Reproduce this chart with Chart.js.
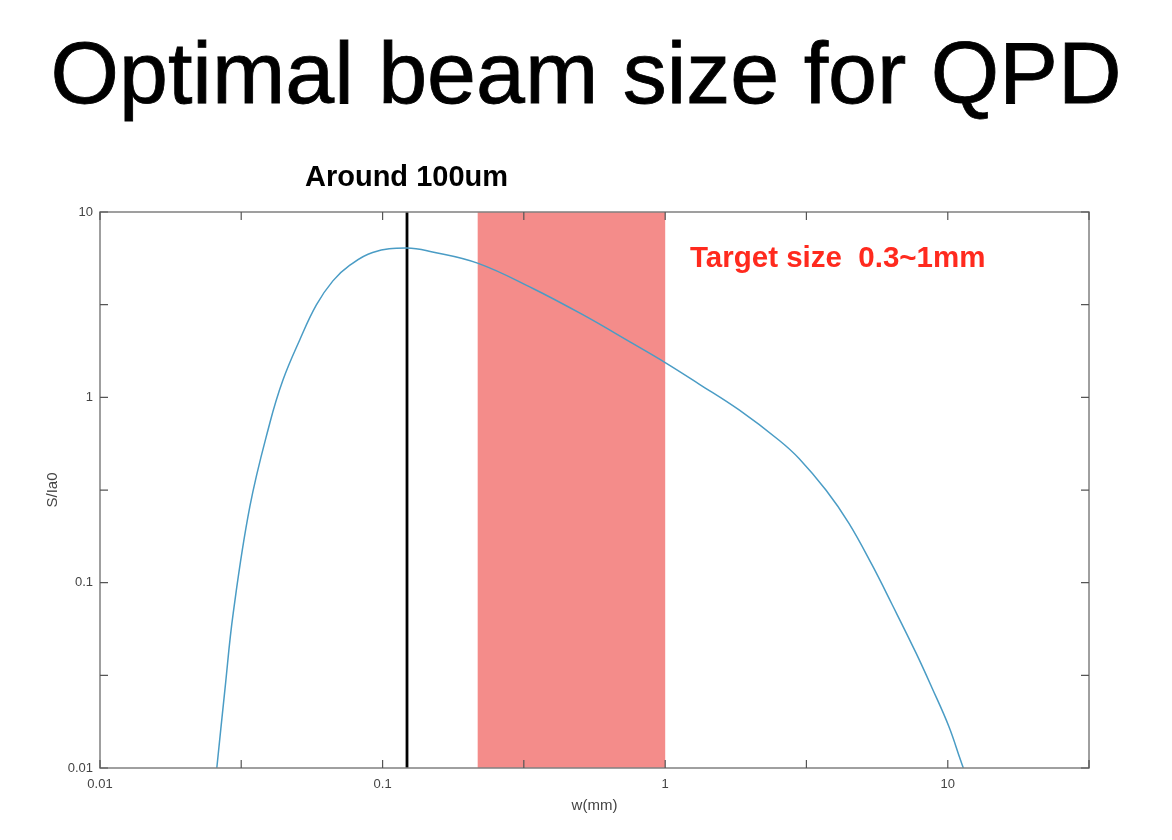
<!DOCTYPE html>
<html>
<head>
<meta charset="utf-8">
<script src="https://cdn.jsdelivr.net/npm/chart.js@4/dist/chart.umd.min.js"></script>
<style>
  html, body { margin: 0; padding: 0; background: #fff; }
  #wrap { position: relative; width: 1172px; height: 840px; overflow: hidden; }
  canvas { position: absolute; left: 0; top: 0; }
  .txt { position: absolute; font-family: "Liberation Sans", Arial, Helvetica, sans-serif; white-space: pre; margin: 0; line-height: 1; }
  #title { left: 0; width: 1172px; top: 29px; text-align: center; font-size: 88px; color: #000; font-weight: normal; -webkit-text-stroke: 0.8px #000; }
  #around { left: 305px; top: 162px; font-size: 29px; font-weight: bold; color: #000; }
  #target { left: 690px; top: 242px; font-size: 29.5px; font-weight: bold; color: #ff2a1e; }
</style>
</head>
<body>
<div id="wrap">
  <canvas id="beamChart" width="1172" height="840"></canvas>
  <h1 class="txt" id="title">Optimal beam size for QPD</h1>
  <div class="txt" id="around">Around 100um</div>
  <div class="txt" id="target">Target size  0.3~1mm</div>
</div>
<script>
// curve: beam size w (mm) vs S/Ia0
const beamW = [0.0259, 0.0277, 0.0296, 0.0339, 0.0399, 0.0444, 0.0509, 0.0583, 0.0667, 0.0764,
  0.0922, 0.1213, 0.1502, 0.2167, 0.339, 0.509, 0.764, 1.0, 1.318, 1.826,
  2.529, 2.976, 3.71, 4.47, 5.39, 6.34, 7.71, 8.78, 10.08, 11.1, 11.35];
const signal = [0.01, 0.0269, 0.0683, 0.257, 0.727, 1.24, 2.04, 3.15, 4.25, 5.15,
  6.05, 6.39, 6.09, 5.30, 3.88, 2.80, 1.96, 1.54, 1.18, 0.855,
  0.587, 0.468, 0.315, 0.209, 0.125, 0.0767, 0.0419, 0.0272, 0.0168, 0.0110, 0.01];

const optimumW = 0.122;          // black marker line
const targetBand = [0.217, 1.0]; // shaded region

const xTickValues = [0.01, 0.0316, 0.1, 0.316, 1, 3.16, 10, 31.6];
const yTickValues = [0.01, 0.0316, 0.1, 0.316, 1, 3.16, 10];
const xLabels = { 0.01: '0.01', 0.1: '0.1', 1: '1', 10: '10' };
const yLabels = { 0.01: '0.01', 0.1: '0.1', 1: '1', 10: '10' };

const frameColor = '#808080';

// shaded target band behind the curve
const bandPlugin = {
  id: 'band',
  beforeDatasetsDraw(chart) {
    const { ctx, chartArea, scales } = chart;
    const x0 = scales.x.getPixelForValue(targetBand[0]);
    const x1 = scales.x.getPixelForValue(targetBand[1]);
    ctx.save();
    ctx.fillStyle = '#f48c8a';
    ctx.fillRect(x0, chartArea.top, x1 - x0, chartArea.bottom - chartArea.top);
    ctx.restore();
  }
};

// MATLAB style box with inward ticks on all four sides
const framePlugin = {
  id: 'frame',
  afterDraw(chart) {
    const { ctx, chartArea: a, scales } = chart;
    const len = 8;
    ctx.save();
    ctx.strokeStyle = frameColor;
    ctx.lineWidth = 1.5;
    ctx.strokeRect(a.left, a.top, a.right - a.left, a.bottom - a.top);
    ctx.lineWidth = 1.2;
    ctx.strokeStyle = '#555';
    ctx.beginPath();
    xTickValues.forEach(v => {
      const px = scales.x.getPixelForValue(v);
      ctx.moveTo(px, a.bottom); ctx.lineTo(px, a.bottom - len);
      ctx.moveTo(px, a.top); ctx.lineTo(px, a.top + len);
    });
    yTickValues.forEach(v => {
      const py = scales.y.getPixelForValue(v);
      ctx.moveTo(a.left, py); ctx.lineTo(a.left + len, py);
      ctx.moveTo(a.right, py); ctx.lineTo(a.right - len, py);
    });
    ctx.stroke();
    ctx.restore();
  }
};

const fontFamily = "'Liberation Sans', Arial, Helvetica, sans-serif";

new Chart(document.getElementById('beamChart'), {
  type: 'line',
  data: {
    datasets: [
      {
        label: 'S/Ia0',
        data: beamW.map((w, i) => ({ x: w, y: signal[i] })),
        borderColor: '#4a9cc5',
        borderWidth: 1.5,
        pointRadius: 0,
        tension: 0.4,
        fill: false
      },
      {
        label: 'optimum',
        data: [{ x: optimumW, y: 0.01 }, { x: optimumW, y: 10 }],
        borderColor: '#000',
        borderWidth: 2.8,
        pointRadius: 0,
        fill: false
      }
    ]
  },
  options: {
    responsive: false,
    animation: false,
    devicePixelRatio: 1,
    layout: { padding: { top: 212, right: 83, left: 0, bottom: 0 } },
    plugins: { legend: { display: false }, tooltip: { enabled: false } },
    scales: {
      x: {
        type: 'logarithmic',
        min: 0.01,
        max: 31.6,
        grid: { display: false, drawTicks: false },
        border: { display: false },
        afterBuildTicks: s => { s.ticks = xTickValues.map(v => ({ value: v })); },
        afterFit: s => { s.height = 72; },
        ticks: {
          autoSkip: false,
          maxRotation: 0,
          padding: 9,
          color: '#444',
          font: { family: fontFamily, size: 13 },
          callback: v => xLabels[v] || ''
        },
        title: {
          display: true,
          text: 'w(mm)',
          color: '#444',
          font: { family: fontFamily, size: 15 },
          padding: { top: 0, bottom: 25 }
        }
      },
      y: {
        type: 'logarithmic',
        min: 0.01,
        max: 10,
        grid: { display: false, drawTicks: false },
        border: { display: false },
        afterBuildTicks: s => { s.ticks = yTickValues.map(v => ({ value: v })); },
        afterFit: s => { s.width = 100; },
        ticks: {
          autoSkip: false,
          padding: 7,
          color: '#444',
          font: { family: fontFamily, size: 13 },
          callback: v => yLabels[v] || ''
        },
        title: {
          display: true,
          text: 'S/Ia0',
          color: '#444',
          font: { family: fontFamily, size: 15 },
          padding: { top: 44, bottom: 0 }
        }
      }
    }
  },
  plugins: [bandPlugin, framePlugin]
});
</script>
</body>
</html>
